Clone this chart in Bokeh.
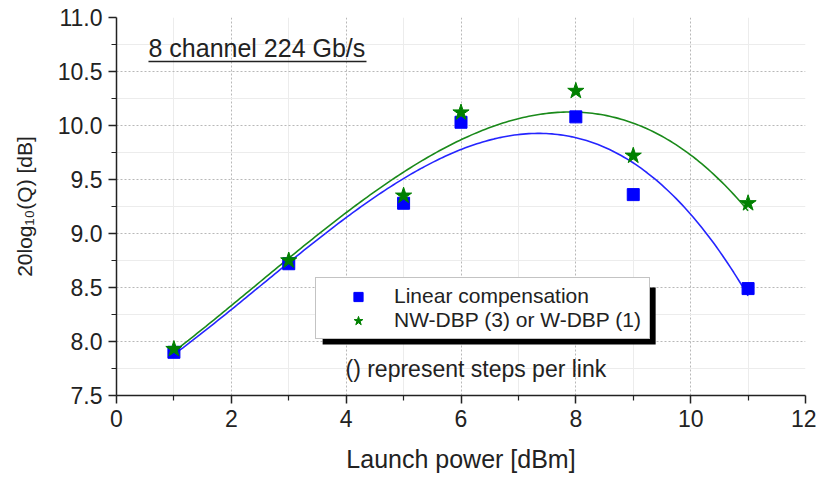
import numpy as np
from bokeh.plotting import figure
from bokeh.models import Legend, LegendItem, Label, Range1d, FixedTicker, NumeralTickFormatter
from bokeh.embed import file_html
from bokeh.resources import INLINE

# ---- data ----
power = [1, 3, 5, 6, 8, 9, 11]
linear_q = [7.90, 8.72, 9.28, 10.03, 10.08, 9.36, 8.49]
dbp_q = [7.93, 8.75, 9.35, 10.12, 10.32, 9.72, 9.28]

x_ticks = [0, 2, 4, 6, 8, 10, 12]
x_minor = [1, 3, 5, 7, 9, 11]
y_ticks = [7.5, 8.0, 8.5, 9.0, 9.5, 10.0, 10.5, 11.0]
y_minor = [7.75, 8.25, 8.75, 9.25, 9.75, 10.25, 10.75]

title_text = "8 channel 224 Gb/s"
note_text = "() represent steps per link"
legend_labels = ["Linear compensation", "NW-DBP (3) or W-DBP (1)"]

FONT = "Liberation Sans"
TXT = "#222222"

# fitted curves from the data
xs = np.linspace(min(power), max(power), 200)
lin_fit = np.polyval(np.polyfit(power, linear_q, 3), xs)
dbp_fit = np.polyval(np.polyfit(power, dbp_q, 3), xs)

p = figure(width=816, height=476, x_range=Range1d(0, 12), y_range=Range1d(7.5, 11.0),
           output_backend="svg", toolbar_location=None,
           min_border_left=116, min_border_right=11, min_border_top=17, min_border_bottom=81)
p.outline_line_color = None
p.background_fill_color = "white"

p.xaxis.ticker = FixedTicker(ticks=x_ticks, minor_ticks=x_minor)
p.yaxis.ticker = FixedTicker(ticks=y_ticks, minor_ticks=y_minor)
p.yaxis.formatter = NumeralTickFormatter(format="0.0")

for ax in (p.xaxis, p.yaxis):
    ax.axis_line_width = 1.5
    ax.axis_line_color = "#222222"
    ax.major_tick_line_color = "#222222"
    ax.minor_tick_line_color = "#222222"
    ax.major_tick_line_width = 1.5
    ax.minor_tick_line_width = 1.2
    ax.major_tick_out = 8
    ax.major_tick_in = 0
    ax.minor_tick_out = 5
    ax.minor_tick_in = 0
    ax.major_label_text_font = FONT
    ax.major_label_text_font_size = "23px"
    ax.major_label_text_color = TXT
    ax.axis_label_text_font = FONT
    ax.axis_label_text_font_style = "normal"
    ax.axis_label_text_color = TXT

p.xaxis.axis_label = "Launch power [dBm]"
p.yaxis.axis_label = "20log\u2081\u2080(Q) [dB]"
p.xaxis.axis_label_text_font_size = "25px"
p.yaxis.axis_label_text_font_size = "21px"
p.xaxis.axis_label_standoff = 15
p.yaxis.axis_label_standoff = 19
p.xaxis.major_label_standoff = 6
p.yaxis.major_label_standoff = 6

for g in (p.xgrid, p.ygrid):
    g.grid_line_color = "#b8b8b8"
    g.grid_line_dash = "2 2"
    g.grid_line_width = 1
    g.minor_grid_line_color = "#ececec"
    g.minor_grid_line_width = 1

# legend shadow
p.quad(left=[3.59], right=[9.39], top=[8.50], bottom=[7.972], fill_color="black", line_color=None)

# fit lines
p.line(xs, lin_fit, line_color="#2525ff", line_width=1.6)
p.line(xs, dbp_fit, line_color="#1a8a1a", line_width=1.6)

r_lin = p.scatter(power, linear_q, marker="square", size=12, fill_color="#0000ff", line_color="#0000ff")
r_dbp = p.scatter(power, dbp_q, marker="star", size=17, fill_color="#008000", line_color="#008000")

legend = Legend(items=[LegendItem(label=legend_labels[0], renderers=[r_lin]),
                       LegendItem(label=legend_labels[1], renderers=[r_dbp])],
                location=(199, 56), orientation="vertical",
                label_text_font=FONT, label_text_font_size="21px", label_text_color=TXT,
                glyph_width=72, glyph_height=23, label_height=23, label_standoff=0,
                label_width=249, spacing=0, padding=6, margin=0,
                border_line_color="#888888", border_line_width=1,
                background_fill_color="white", background_fill_alpha=1.0)
p.add_layout(legend, "center")

# title text with underline
p.add_layout(Label(x=0.557, y=10.713, text=title_text, text_font=FONT, text_font_size="25px",
                   text_color=TXT, text_baseline="middle"))
p.segment(x0=[0.557], x1=[4.354], y0=[10.593], y1=[10.593], line_color=TXT, line_width=1.5)

p.add_layout(Label(x=3.988, y=7.75, text=note_text, text_font=FONT, text_font_size="23px",
                   text_color=TXT, text_baseline="middle"))

open("out.html", "w").write(file_html(p, INLINE))
